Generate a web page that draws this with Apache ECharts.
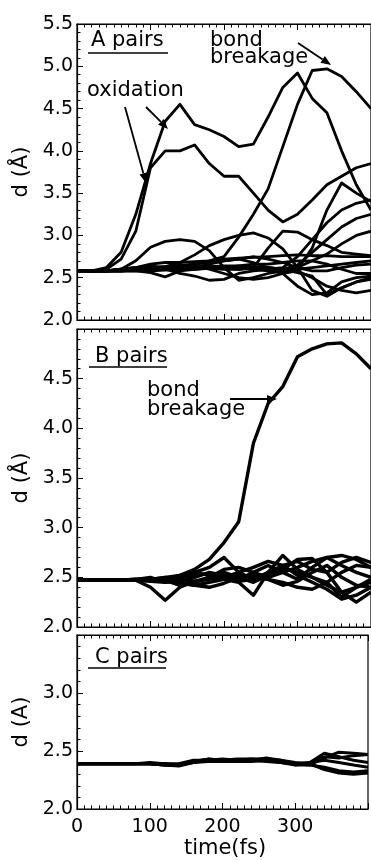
<!DOCTYPE html>
<html>
<head>
<meta charset="utf-8">
<script src="https://cdn.jsdelivr.net/npm/echarts@6/dist/echarts.min.js"></script>
<style>
    html, body { margin: 0; padding: 0; background: #fff; overflow: hidden; }
    #chart { width: 371px; height: 860px; }
</style>
</head>
<body>
<div id="chart"></div>
<script>
// time samples (fs)
const times = [0, 20, 40, 60, 80, 100, 120, 140, 160, 180, 200, 220, 240, 260, 280, 300, 320, 340, 360, 380, 400];

// A pairs
const aOxUpper   = [2.58, 2.58, 2.62, 2.80, 3.25, 3.85, 4.35, 4.55, 4.31, 4.25, 4.17, 4.05, 4.08, 4.40, 4.75, 4.92, 4.62, 4.45, 4.00, 3.60, 3.30];
const aOxLower   = [2.58, 2.58, 2.60, 2.72, 3.05, 3.80, 4.00, 4.00, 4.07, 3.85, 3.70, 3.70, 3.50, 3.30, 3.16, 3.25, 3.42, 3.60, 3.70, 3.80, 3.85];
const aBreak     = [2.58, 2.58, 2.58, 2.60, 2.62, 2.62, 2.63, 2.64, 2.66, 2.70, 2.75, 2.98, 3.25, 3.55, 4.05, 4.55, 4.95, 4.97, 4.88, 4.70, 4.50];
const aHump1     = [2.58, 2.58, 2.58, 2.60, 2.70, 2.86, 2.93, 2.95, 2.93, 2.82, 2.62, 2.47, 2.50, 2.55, 2.58, 2.60, 2.62, 2.64, 2.66, 2.68, 2.70];
const aHump2     = [2.58, 2.58, 2.58, 2.59, 2.60, 2.61, 2.63, 2.68, 2.77, 2.88, 2.95, 3.00, 3.03, 2.97, 2.84, 2.62, 2.35, 2.28, 2.38, 2.45, 2.50];
const aPlateau   = [2.58, 2.58, 2.58, 2.59, 2.60, 2.60, 2.61, 2.62, 2.62, 2.63, 2.62, 2.60, 2.62, 2.85, 3.05, 3.04, 2.95, 2.88, 2.80, 2.78, 2.76];
const aLate1     = [2.58, 2.58, 2.58, 2.58, 2.59, 2.60, 2.60, 2.61, 2.62, 2.62, 2.63, 2.62, 2.60, 2.58, 2.56, 2.60, 2.85, 3.30, 3.62, 3.50, 3.40];
const aLate2     = [2.58, 2.58, 2.58, 2.58, 2.58, 2.59, 2.60, 2.60, 2.61, 2.62, 2.62, 2.63, 2.62, 2.60, 2.62, 2.75, 2.95, 3.15, 3.30, 3.38, 3.42];
const aLate3     = [2.58, 2.58, 2.58, 2.58, 2.59, 2.59, 2.60, 2.61, 2.62, 2.63, 2.64, 2.64, 2.63, 2.62, 2.60, 2.65, 2.80, 2.95, 3.10, 3.20, 3.25];
const aLate4     = [2.58, 2.58, 2.58, 2.58, 2.58, 2.58, 2.59, 2.60, 2.60, 2.61, 2.60, 2.60, 2.61, 2.62, 2.60, 2.62, 2.70, 2.78, 2.90, 3.00, 3.05];
const aFlat1     = [2.58, 2.58, 2.58, 2.60, 2.62, 2.66, 2.68, 2.68, 2.69, 2.70, 2.72, 2.73, 2.74, 2.75, 2.76, 2.77, 2.76, 2.76, 2.75, 2.75, 2.75];
const aFlat2     = [2.58, 2.58, 2.58, 2.58, 2.58, 2.56, 2.51, 2.58, 2.60, 2.62, 2.62, 2.64, 2.66, 2.66, 2.68, 2.70, 2.70, 2.66, 2.60, 2.55, 2.55];
const aFlat3     = [2.58, 2.58, 2.58, 2.58, 2.60, 2.62, 2.60, 2.55, 2.52, 2.47, 2.48, 2.55, 2.58, 2.60, 2.55, 2.40, 2.30, 2.32, 2.45, 2.50, 2.52];
const aFlat4     = [2.58, 2.58, 2.58, 2.58, 2.59, 2.60, 2.62, 2.65, 2.64, 2.60, 2.55, 2.50, 2.48, 2.50, 2.55, 2.58, 2.50, 2.40, 2.35, 2.32, 2.35];
const aFlat5     = [2.58, 2.58, 2.58, 2.60, 2.62, 2.64, 2.62, 2.60, 2.62, 2.66, 2.70, 2.72, 2.68, 2.62, 2.60, 2.56, 2.52, 2.30, 2.38, 2.45, 2.48];
const aFlat6     = [2.58, 2.58, 2.58, 2.59, 2.60, 2.60, 2.62, 2.64, 2.66, 2.68, 2.70, 2.72, 2.75, 2.72, 2.68, 2.62, 2.58, 2.58, 2.62, 2.65, 2.66];

// B pairs
const bBreak = [2.47, 2.47, 2.47, 2.47, 2.47, 2.48, 2.50, 2.52, 2.58, 2.68, 2.85, 3.06, 3.85, 4.25, 4.42, 4.72, 4.80, 4.85, 4.86, 4.75, 4.60];
const b1 = [2.47, 2.47, 2.47, 2.47, 2.47, 2.40, 2.27, 2.40, 2.46, 2.50, 2.55, 2.50, 2.45, 2.52, 2.60, 2.55, 2.50, 2.42, 2.35, 2.40, 2.45];
const b2 = [2.47, 2.47, 2.47, 2.47, 2.48, 2.50, 2.45, 2.50, 2.55, 2.60, 2.70, 2.55, 2.48, 2.50, 2.55, 2.60, 2.66, 2.70, 2.62, 2.55, 2.50];
const b3 = [2.47, 2.47, 2.47, 2.47, 2.47, 2.47, 2.48, 2.52, 2.55, 2.52, 2.48, 2.45, 2.32, 2.55, 2.72, 2.58, 2.50, 2.45, 2.30, 2.40, 2.48];
const b4 = [2.47, 2.47, 2.47, 2.47, 2.48, 2.49, 2.47, 2.42, 2.45, 2.50, 2.58, 2.60, 2.55, 2.50, 2.58, 2.68, 2.69, 2.55, 2.35, 2.25, 2.35];
const b5 = [2.47, 2.47, 2.47, 2.47, 2.47, 2.46, 2.45, 2.46, 2.50, 2.55, 2.52, 2.48, 2.55, 2.62, 2.55, 2.48, 2.60, 2.70, 2.72, 2.68, 2.60];
const b6 = [2.47, 2.47, 2.47, 2.47, 2.47, 2.47, 2.46, 2.45, 2.42, 2.45, 2.48, 2.52, 2.50, 2.48, 2.45, 2.40, 2.38, 2.45, 2.55, 2.62, 2.60];
const b7 = [2.47, 2.47, 2.47, 2.47, 2.47, 2.48, 2.50, 2.48, 2.46, 2.48, 2.50, 2.55, 2.60, 2.66, 2.62, 2.52, 2.45, 2.38, 2.28, 2.32, 2.40];
const b8 = [2.47, 2.47, 2.47, 2.47, 2.47, 2.47, 2.47, 2.44, 2.42, 2.40, 2.44, 2.50, 2.52, 2.48, 2.42, 2.46, 2.55, 2.62, 2.50, 2.42, 2.40];
const b9 = [2.47, 2.47, 2.47, 2.47, 2.47, 2.47, 2.48, 2.50, 2.52, 2.54, 2.50, 2.46, 2.48, 2.55, 2.62, 2.66, 2.58, 2.55, 2.65, 2.70, 2.65];

// C pairs
const c1 = [2.39, 2.39, 2.39, 2.39, 2.39, 2.39, 2.38, 2.38, 2.41, 2.43, 2.42, 2.42, 2.42, 2.43, 2.42, 2.38, 2.40, 2.48, 2.45, 2.42, 2.40];
const c2 = [2.39, 2.39, 2.39, 2.39, 2.39, 2.39, 2.39, 2.39, 2.42, 2.42, 2.43, 2.42, 2.43, 2.42, 2.41, 2.39, 2.38, 2.44, 2.49, 2.48, 2.47];
const c3 = [2.39, 2.39, 2.39, 2.39, 2.39, 2.39, 2.38, 2.37, 2.40, 2.41, 2.41, 2.41, 2.42, 2.41, 2.40, 2.38, 2.38, 2.36, 2.33, 2.32, 2.33];
const c4 = [2.39, 2.39, 2.39, 2.39, 2.39, 2.40, 2.39, 2.38, 2.40, 2.42, 2.41, 2.41, 2.41, 2.42, 2.40, 2.39, 2.40, 2.42, 2.40, 2.38, 2.36];
const c5 = [2.39, 2.39, 2.39, 2.39, 2.39, 2.39, 2.39, 2.38, 2.41, 2.42, 2.42, 2.43, 2.43, 2.43, 2.41, 2.39, 2.39, 2.34, 2.31, 2.30, 2.31];
const c6 = [2.39, 2.39, 2.39, 2.39, 2.39, 2.39, 2.38, 2.38, 2.41, 2.43, 2.42, 2.42, 2.42, 2.44, 2.42, 2.40, 2.39, 2.45, 2.44, 2.46, 2.47];

const panelLines = [
    [aOxUpper, aOxLower, aBreak, aHump1, aHump2, aPlateau, aLate1, aLate2, aLate3, aLate4, aFlat1, aFlat2, aFlat3, aFlat4, aFlat5, aFlat6],
    [bBreak, b1, b2, b3, b4, b5, b6, b7, b8, b9],
    [c1, c2, c3, c4, c5, c6]
];
const yMins = [2.0, 2.0, 2.0];
const yMaxs = [5.5, 5.0, 3.5];
const yNames = ['d (Å)', 'd (Å)', 'd (A)'];
const xTickLabels = [0, 100, 200, 300];

const font = 'DejaVu Sans';
const gridTops = [24, 329, 635];
const gridHeights = [296, 298, 178];
const lineWidths = [2.8, 3.4, 3.0];

const chart = echarts.init(document.getElementById('chart'));

const grids = [], xAxes = [], yAxes = [], series = [];
for (let p = 0; p < 3; p++) {
    grids.push({ left: 77, width: 316, top: gridTops[p], height: gridHeights[p],
        show: true, borderColor: '#000', borderWidth: 1.2, backgroundColor: 'transparent' });
    const isLast = p === 2;
    const baseX = {
        type: 'value', gridIndex: p, min: 0, max: 400, interval: 100,
        axisLine: { show: true, lineStyle: { color: '#000', width: 1.2 } },
        axisTick: { show: true, inside: true, length: 6, lineStyle: { color: '#000', width: 1 } },
        minorTick: { show: true, splitNumber: 10, length: 3.5, lineStyle: { color: '#000', width: 1 } },
        splitLine: { show: false }
    };
    xAxes.push(Object.assign({}, baseX, {
        position: 'bottom',
        axisLabel: {
            show: isLast, color: '#000', fontFamily: font, fontSize: 19, margin: 9,
            formatter: v => (xTickLabels.indexOf(v) >= 0 ? String(v) : '')
        },
        name: isLast ? 'time(fs)' : '',
        nameLocation: 'middle', nameGap: 29,
        nameTextStyle: { color: '#000', fontFamily: font, fontSize: 21, padding: [0, 0, 0, 5] }
    }));
    xAxes.push(Object.assign({}, baseX, { position: 'top', axisLabel: { show: false } }));
    yAxes.push({
        type: 'value', gridIndex: p, min: yMins[p], max: yMaxs[p], interval: 0.5,
        position: 'left',
        axisLine: { show: true, lineStyle: { color: '#000', width: 1.2 } },
        axisTick: { show: true, inside: true, length: 6, lineStyle: { color: '#000', width: 1 } },
        minorTick: { show: true, splitNumber: 5, length: 3.5, lineStyle: { color: '#000', width: 1 } },
        splitLine: { show: false },
        axisLabel: {
            color: '#000', fontFamily: font, fontSize: 19, margin: 4,
            showMaxLabel: p === 0,
            formatter: v => v.toFixed(1)
        },
        name: yNames[p], nameLocation: 'middle', nameGap: 43,
        nameTextStyle: { color: '#000', fontFamily: font, fontSize: 21 }
    });
    panelLines[p].forEach(vals => {
        series.push({
            type: 'line', xAxisIndex: p * 2, yAxisIndex: p,
            data: times.map((t, i) => [t, vals[i]]),
            showSymbol: false, silent: true, clip: true,
            lineStyle: { color: '#000', width: lineWidths[p], join: 'round' }
        });
    });
}

// annotation helpers
function arrow(x1, y1, x2, y2) {
    const ang = Math.atan2(y2 - y1, x2 - x1);
    const len = 10, half = 4;
    const bx = x2 - len * Math.cos(ang), by = y2 - len * Math.sin(ang);
    const nx = -Math.sin(ang) * half, ny = Math.cos(ang) * half;
    return [
        { type: 'line', shape: { x1: x1, y1: y1, x2: bx, y2: by }, style: { stroke: '#000', lineWidth: 1.8 } },
        { type: 'polygon', shape: { points: [[x2, y2], [bx + nx, by + ny], [bx - nx, by - ny]] }, style: { fill: '#000' } }
    ];
}
function label(text, x, y) {
    return { type: 'text', x: x, y: y, style: { text: text, fill: '#000', font: '21px "' + font + '"', verticalAlign: 'middle', align: 'left' } };
}
function underline(x1, x2, y) {
    return { type: 'line', shape: { x1: x1, y1: y, x2: x2, y2: y }, style: { stroke: '#000', lineWidth: 1.5 } };
}

const graphics = [
    label('A pairs', 91, 41), underline(88, 168, 53),
    label('bond', 210, 41), label('breakage', 210, 58),
    label('oxidation', 87, 91),
    ...arrow(298, 43, 331, 65),
    ...arrow(125, 107, 146, 183),
    ...arrow(146, 107, 168, 129),
    label('B pairs', 95, 357), underline(89, 167, 367),
    label('bond', 147, 391), label('breakage', 147, 410),
    ...arrow(230, 399, 277, 399),
    label('C pairs', 95, 658), underline(88, 166, 668)
];

chart.setOption({
    animation: false,
    backgroundColor: '#fff',
    grid: grids,
    xAxis: xAxes,
    yAxis: yAxes,
    series: series,
    graphic: graphics
});
window.addEventListener('resize', () => chart.resize());
</script>
</body>
</html>
